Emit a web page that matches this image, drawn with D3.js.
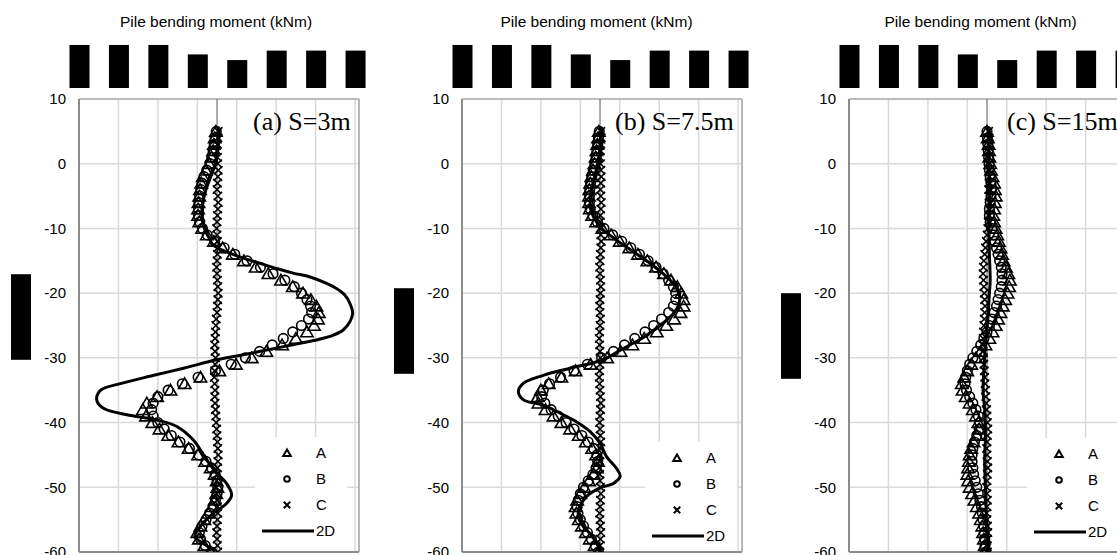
<!DOCTYPE html>
<html>
<head>
<meta charset="utf-8">
<script src="https://cdn.jsdelivr.net/npm/d3@7"></script>
<style>
  body { margin: 0; background: #fff; }
  svg { display: block; }
</style>
</head>
<body>
<svg id="chart" width="1117" height="555"></svg>
<script>
// ---------------- data ----------------
const depths = [
  5, 4, 3, 2, 1, 0, -1, -2, -3, -4, -5,
  -6, -7, -8, -9, -10, -11, -12, -13, -14, -15, -16,
  -17, -18, -19, -20, -21, -22, -23, -24, -25, -26, -27,
  -28, -29, -30, -31, -32, -33, -34, -35, -36, -37, -38,
  -39, -40, -41, -42, -43, -44, -45, -46, -47, -48, -49,
  -50, -51, -52, -53, -54, -55, -56, -57, -58, -59, -60
];

const xTickValues = [-350, -250, -150, -50, 50, 150, 250, 350];
const yTickValues = [10, 0, -10, -20, -30, -40, -50, -60];
const xDomain = [-350, 360];
const yDomain = [10, -60];
const xTitle = "Pile bending moment (kNm)";
const yTitle = "Depth (m)";
const panelLabels = ["(a) S=3m", "(b) S=7.5m", "(c) S=15m"];
const seriesNames = ["A", "B", "C", "2D"];

// (a) S = 3 m
const momentA_3 = [
  -3, -6, -8, -10, -14, -20, -28, -36, -40, -43, -45,
  -47, -48, -48, -45, -38, -26, -8, 14, 40, 68, 98,
  130, 162, 192, 218, 238, 252, 258, 256, 246, 228, 200,
  165, 125, 88, 48, 6, -42, -82, -118, -152, -178, -188,
  -180, -164, -146, -124, -98, -72, -48, -30, -16, -6, -1,
  1, -2, -6, -12, -22, -32, -42, -50, -46, -32, -16
];
const momentB_3 = [
  -2, -5, -7, -10, -13, -18, -26, -33, -38, -41, -44,
  -46, -47, -47, -44, -37, -25, -6, 18, 45, 76, 110,
  142, 172, 196, 214, 228, 237, 240, 232, 214, 192, 168,
  140, 108, 72, 36, -4, -48, -88, -124, -150, -162, -166,
  -162, -150, -134, -116, -94, -70, -46, -28, -14, -5, 0,
  2, 0, -4, -10, -19, -28, -38, -45, -42, -30, -14
];
const momentC_3 = [
  3, 2, 1, 0, 1, 2, 3, 2, 1, 0, 2,
  3, 2, 1, 0, -1, 0, 1, 2, 1, 0, -1,
  0, 1, 2, 3, 2, 1, 0, -2, -3, -4, -5,
  -6, -5, -4, -5, -6, -7, -6, -5, -6, -5, -4,
  -3, -2, -1, 0, 1, 2, 3, 2, 1, 0, -1,
  -2, -1, 0, 1, 2, 1, 0, -1, 0, 1, 2
];
const depth2D_3 = [
  5.5, 4, 2, 0, -2, -4, -6, -8, -10, -11.5,
  -12.6, -13.6, -14.4, -15.4, -16.2, -16.9, -17.5, -18.5, -19.3, -20.3,
  -21.6, -23.1, -24.4, -25.7, -26.5, -27.2, -27.8, -28.5, -29.6, -30.3,
  -31.6, -32.7, -33.9, -35, -36.5, -37.8, -38.8, -39.6, -40.6, -42.7,
  -45.8, -47.8, -49.4, -51.2, -52.5, -54, -56.1, -57.6, -58.7, -59.7
];
const moment2D_3 = [
  3, 4, 2, -4, -16, -28, -36, -38, -32, -20,
  -9, 24, 58, 109, 151, 193, 236, 278, 303, 324,
  337, 344, 337, 320, 295, 255, 206, 150, 60, -1,
  -85, -160, -240, -295, -305, -288, -229, -153, -102, -60,
  -26, -1, 24, 37, 24, -9, -43, -56, -35, -9
];

// (b) S = 7.5 m
const momentA_75 = [
  -3, -5, -7, -9, -11, -14, -18, -22, -25, -27, -28,
  -28, -26, -20, -10, 6, 28, 50, 74, 96, 120, 142,
  162, 180, 196, 206, 212, 212, 204, 188, 168, 144, 112,
  82, 52, 18, -24, -62, -98, -130, -150, -158, -156, -138,
  -118, -98, -76, -54, -36, -20, -10, -5, -8, -16, -28,
  -40, -50, -58, -62, -60, -54, -46, -36, -26, -14, -4
];
const momentB_75 = [
  -2, -4, -6, -8, -10, -13, -17, -21, -24, -26, -27,
  -27, -25, -18, -7, 10, 32, 55, 78, 100, 122, 142,
  160, 174, 186, 192, 192, 186, 174, 156, 136, 114, 88,
  62, 34, 4, -32, -66, -100, -128, -144, -148, -140, -124,
  -106, -86, -66, -46, -30, -16, -8, -6, -10, -18, -30,
  -42, -50, -55, -58, -56, -50, -42, -32, -22, -12, -4
];
const momentC_75 = [
  2, 3, 2, 1, 0, 1, 2, 3, 2, 1, 2,
  3, 2, 1, 0, 1, 2, 3, 2, 1, 0, -1,
  0, 1, 2, 1, 0, -1, 0, 1, 0, -1, -2,
  -1, 0, 1, 0, -1, -2, -1, 0, 1, 2, 1,
  0, -1, 0, 1, 2, 1, 0, -1, -2, -1, 0,
  1, 2, 1, 0, -1, 0, 1, 2, 1, 0, -1
];
const depth2D_75 = [
  5.5, 3, 0, -3, -5, -7, -8.5, -10, -11, -12,
  -13, -14, -15, -16, -17, -18, -19, -20, -21, -22,
  -23, -24, -25, -26, -27, -28, -29, -30.3, -31.6, -32.7,
  -33.9, -35.2, -36.5, -37.3, -38.8, -39.9, -41.4, -43.2, -45.3, -47.1,
  -48.3, -49.4, -50.1, -51.4, -53, -54.6, -56.1, -57.7, -59.8
];
const moment2D_75 = [
  2, 0, -6, -18, -24, -24, -14, 4, 24, 46,
  70, 94, 118, 140, 160, 178, 192, 200, 202, 198,
  188, 172, 152, 130, 106, 76, 46, 8, -76, -144,
  -194, -207, -194, -144, -93, -59, -25, 0, 17, 42,
  51, 34, 0, -34, -51, -55, -42, -17, 0
];

// (c) S = 15 m
const momentA_15 = [
  0, 2, 4, 5, 6, 8, 10, 14, 18, 20, 22,
  20, 18, 16, 18, 22, 26, 30, 34, 38, 42, 48,
  54, 58, 56, 52, 46, 40, 34, 28, 22, 14, 6,
  -4, -16, -28, -40, -50, -58, -64, -62, -54, -44, -36,
  -28, -22, -20, -26, -34, -40, -44, -46, -48, -50, -48,
  -44, -38, -32, -26, -20, -16, -12, -10, -8, -6, -4
];
const momentB_15 = [
  0, 1, 2, 3, 4, 5, 6, 8, 10, 11, 10,
  8, 6, 6, 8, 12, 16, 20, 24, 28, 32, 36,
  38, 38, 36, 32, 28, 24, 18, 12, 6, 0, -8,
  -16, -26, -36, -44, -50, -54, -56, -52, -44, -36, -28,
  -22, -18, -20, -26, -32, -36, -38, -38, -36, -34, -30,
  -26, -22, -18, -14, -12, -10, -8, -7, -6, -5, -4
];
const momentC_15 = [
  4, 5, 6, 5, 4, 6, 7, 6, 5, 4, 5,
  6, 5, 4, 3, 2, 0, -2, -4, -6, -8, -9,
  -10, -9, -8, -7, -6, -5, -6, -7, -8, -9, -10,
  -11, -10, -9, -8, -7, -6, -5, -4, -3, -2, -1,
  0, 1, 2, 1, 0, -1, 0, 1, 2, 1, 0,
  -1, 0, 1, 0, -1, 0, 1, 2, 1, 0, 1
];
const depth2D_15 = [5.5, 2, 0, -3, -6, -10, -14, -18, -20, -24, -28, -32, -35, -38, -42, -46, -50, -54, -58, -60];
const moment2D_15 = [3, 4, 5, 6, 6, 5, 6, 8, 6, 2, -4, -8, -10, -6, -4, -6, -4, -2, 0, 0];

// ---------------- layout ----------------
const plotTop = 99, plotW = 280, plotH = 453;
const panels = [
  { left: 79,  label: panelLabels[0], A: momentA_3,  B: momentB_3,  C: momentC_3,  lineDepth: depth2D_3,  lineMoment: moment2D_3,
    titleDx: 137, labelDx: 174, yTitleCy: 317, legendDx: 208, legendY: 453 },
  { left: 462, label: panelLabels[1], A: momentA_75, B: momentB_75, C: momentC_75, lineDepth: depth2D_75, lineMoment: moment2D_75,
    titleDx: 134.5, labelDx: 153, yTitleCy: 331, legendDx: 215, legendY: 458 },
  { left: 849, label: panelLabels[2], A: momentA_15, B: momentB_15, C: momentC_15, lineDepth: depth2D_15, lineMoment: moment2D_15,
    titleDx: 131.5, labelDx: 158, yTitleCy: 336, legendDx: 210, legendY: 454 }
];

const sansFont = "'Liberation Sans', Arial, sans-serif";
const serifFont = "'Liberation Serif', 'Times New Roman', serif";
const plainNumber = d => String(d);   // hyphen-minus, as in the spreadsheet output

const triPath = "M0,-5.8L6.2,4.8L-6.2,4.8Z";
const crossPath = "M-4.2,-4.2L4.2,4.2M-4.2,4.2L4.2,-4.2";
const triSmall = "M0,-3.6L3.8,3L-3.8,3Z";
const crossSmall = "M-3.2,-3.2L3.2,3.2M-3.2,3.2L3.2,-3.2";

const svg = d3.select("#chart");

panels.forEach((p, i) => {
  const x = d3.scaleLinear().domain(xDomain).range([p.left, p.left + plotW]);
  const y = d3.scaleLinear().domain(yDomain).range([plotTop, plotTop + plotH]);
  const g = svg.append("g");

  const clipId = "plotclip" + i;
  svg.append("clipPath").attr("id", clipId)
    .append("rect").attr("x", p.left).attr("y", plotTop).attr("width", plotW).attr("height", plotH);

  // grid
  g.append("g").selectAll("line")
    .data(xTickValues.filter(v => v > xDomain[0]))
    .join("line")
    .attr("x1", d => x(d)).attr("x2", d => x(d))
    .attr("y1", plotTop).attr("y2", plotTop + plotH)
    .attr("stroke", "#d9d9d9").attr("stroke-width", 1.5);
  g.append("g").selectAll("line")
    .data(yTickValues.filter(v => v < yDomain[0] && v > yDomain[1]))
    .join("line")
    .attr("x1", p.left).attr("x2", p.left + plotW)
    .attr("y1", d => y(d)).attr("y2", d => y(d))
    .attr("stroke", "#d9d9d9").attr("stroke-width", 1.5);

  // frame
  g.append("line").attr("x1", p.left).attr("x2", p.left + plotW).attr("y1", plotTop).attr("y2", plotTop)
    .attr("stroke", "#a6a6a6").attr("stroke-width", 1.6);
  g.append("line").attr("x1", p.left + plotW).attr("x2", p.left + plotW).attr("y1", plotTop).attr("y2", plotTop + plotH)
    .attr("stroke", "#a6a6a6").attr("stroke-width", 1.6);
  g.append("line").attr("x1", x(0)).attr("x2", x(0)).attr("y1", plotTop).attr("y2", plotTop + plotH)
    .attr("stroke", "#595959").attr("stroke-width", 1);
  g.append("line").attr("x1", p.left).attr("x2", p.left).attr("y1", plotTop).attr("y2", plotTop + plotH)
    .attr("stroke", "#8c8c8c").attr("stroke-width", 2);
  g.append("line").attr("x1", p.left).attr("x2", p.left + plotW).attr("y1", plotTop + plotH).attr("y2", plotTop + plotH)
    .attr("stroke", "#8c8c8c").attr("stroke-width", 2);

  // series
  const marks = g.append("g").attr("clip-path", `url(#${clipId})`);
  marks.append("g").selectAll("path")
    .data(depths.map((d, k) => [p.A[k], d]))
    .join("path")
    .attr("transform", d => `translate(${x(d[0])},${y(d[1])})`)
    .attr("d", triPath)
    .attr("fill", "none").attr("stroke", "#000").attr("stroke-width", 1.6);
  marks.append("g").selectAll("circle")
    .data(depths.map((d, k) => [p.B[k], d]))
    .join("circle")
    .attr("cx", d => x(d[0])).attr("cy", d => y(d[1])).attr("r", 4.8)
    .attr("fill", "none").attr("stroke", "#000").attr("stroke-width", 1.6);
  marks.append("g").selectAll("path")
    .data(depths.map((d, k) => [p.C[k], d]))
    .join("path")
    .attr("transform", d => `translate(${x(d[0])},${y(d[1])})`)
    .attr("d", crossPath)
    .attr("fill", "none").attr("stroke", "#000").attr("stroke-width", 1.6);
  const line = d3.line().x(d => x(d[0])).y(d => y(d[1])).curve(d3.curveCatmullRom.alpha(0.5));
  marks.append("path")
    .datum(p.lineDepth.map((d, k) => [p.lineMoment[k], d]))
    .attr("d", line)
    .attr("fill", "none").attr("stroke", "#000").attr("stroke-width", 3)
    .attr("stroke-linejoin", "round").attr("stroke-linecap", "round");

  // y axis labels
  const yAxis = g.append("g").attr("transform", `translate(${p.left},0)`)
    .call(d3.axisLeft(y).tickValues(yTickValues).tickSize(0).tickPadding(13).tickFormat(plainNumber));
  yAxis.select(".domain").remove();
  yAxis.selectAll("text").attr("font-family", sansFont).attr("font-size", 15).attr("fill", "#000");

  // x axis labels (boxed)
  const xAxis = g.append("g").attr("transform", "translate(0,88)")
    .call(d3.axisTop(x).tickValues(xTickValues).tickSize(0).tickFormat(plainNumber));
  xAxis.select(".domain").remove();
  xAxis.selectAll(".tick text")
    .attr("font-family", sansFont).attr("font-size", 17).attr("fill", "#000")
    .attr("x", 0).attr("y", 0).attr("dy", "0.35em")
    .attr("text-anchor", "start").attr("transform", "rotate(-90)");
  xAxis.selectAll(".tick").each(function () {
    const t = d3.select(this).select("text");
    const len = t.node().getComputedTextLength() + 9;
    d3.select(this).append("rect")
      .attr("x", -10).attr("y", -len).attr("width", 20).attr("height", len)
      .attr("fill", "#000");
  });

  // titles
  g.append("text")
    .attr("x", p.left + p.titleDx).attr("y", 27)
    .attr("text-anchor", "middle")
    .attr("font-family", sansFont).attr("font-size", 15.5).attr("fill", "#000")
    .text(xTitle);

  const yt = g.append("g").attr("transform", `translate(${p.left - 58},${p.yTitleCy})`);
  const ytText = yt.append("text")
    .attr("transform", "rotate(-90)")
    .attr("text-anchor", "middle").attr("dy", "0.35em")
    .attr("font-family", sansFont).attr("font-size", 17).attr("fill", "#000")
    .text(yTitle);
  const ytLen = ytText.node().getComputedTextLength() + 10;
  yt.append("rect").attr("x", -10).attr("y", -ytLen / 2).attr("width", 20).attr("height", ytLen).attr("fill", "#000");

  g.append("text")
    .attr("x", p.left + p.labelDx).attr("y", 130)
    .attr("font-family", serifFont).attr("font-size", 26).attr("fill", "#000")
    .text(p.label);

  // legend
  const mx = p.left + p.legendDx;
  const leg = g.append("g");
  leg.append("rect")
    .attr("x", mx - 32).attr("y", p.legendY - 16)
    .attr("width", 92).attr("height", plotTop + plotH - 1 - (p.legendY - 16))
    .attr("fill", "#fff");
  const rowY = k => p.legendY + k * 26;
  leg.append("path").attr("transform", `translate(${mx},${rowY(0)})`).attr("d", triSmall)
    .attr("fill", "none").attr("stroke", "#000").attr("stroke-width", 2);
  leg.append("circle").attr("cx", mx).attr("cy", rowY(1)).attr("r", 2.8)
    .attr("fill", "none").attr("stroke", "#000").attr("stroke-width", 2);
  leg.append("path").attr("transform", `translate(${mx},${rowY(2)})`).attr("d", crossSmall)
    .attr("fill", "none").attr("stroke", "#000").attr("stroke-width", 2);
  leg.append("line").attr("x1", mx - 25).attr("x2", mx + 27).attr("y1", rowY(3)).attr("y2", rowY(3))
    .attr("stroke", "#000").attr("stroke-width", 3);
  leg.selectAll("text.lg").data(seriesNames).join("text")
    .attr("class", "lg")
    .attr("x", mx + 29).attr("y", (d, k) => rowY(k)).attr("dy", "0.36em")
    .attr("font-family", sansFont).attr("font-size", 15).attr("fill", "#000")
    .text(d => d);
});
</script>
</body>
</html>
